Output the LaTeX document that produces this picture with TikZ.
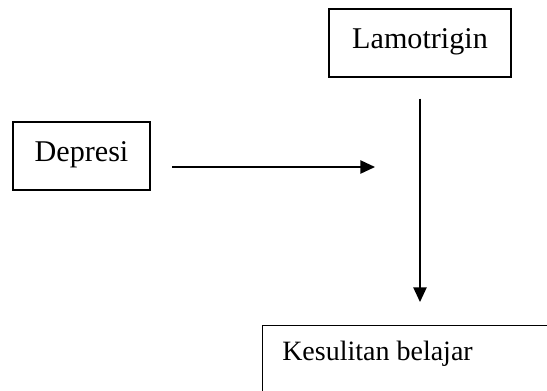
\documentclass[tikz,border=0pt]{standalone}
\usepackage{fontspec}
\setmainfont{Liberation Serif}
\usetikzlibrary{arrows.meta,calc}
\begin{document}
\begin{tikzpicture}[x=0.75pt,y=-0.75pt,
  box/.style={draw,line width=1.1pt,inner sep=0pt},
  lbl/.style={font=\fontsize{22.6}{26}\selectfont,inner sep=0pt},
  arr/.style={line width=1.1pt,-{Triangle[length=11pt,width=10pt]}}]
\useasboundingbox (0,0) rectangle (547,390);
\clip (0,0) rectangle (547,390);
\node[box,minimum width=136.5pt,minimum height=51pt] (lam) at (420,43) {};
\node[lbl,anchor=base] (lamt) at (420,48) {Lamotrigin};
\node[box,minimum width=102.75pt,minimum height=51pt] (dep) at (81.5,156) {};
\node[lbl,anchor=base] (dept) at (81.5,161) {Depresi};
\node[box,anchor=north west,minimum width=300pt,minimum height=80pt] (kes) at (262,325) {};
\node[lbl,anchor=base west,font=\fontsize{21}{25}\selectfont] (kest) at (282,360) {Kesulitan belajar};
\coordinate (hstart) at (172,167);
\coordinate (hend) at (375,167);
\draw[arr] (hstart) -- (hend);
\draw[arr] ($(lam.south)+(0,21)$) -- ($(lam.south |- kes.north)+(0,-23)$);
\end{tikzpicture}
\end{document}
